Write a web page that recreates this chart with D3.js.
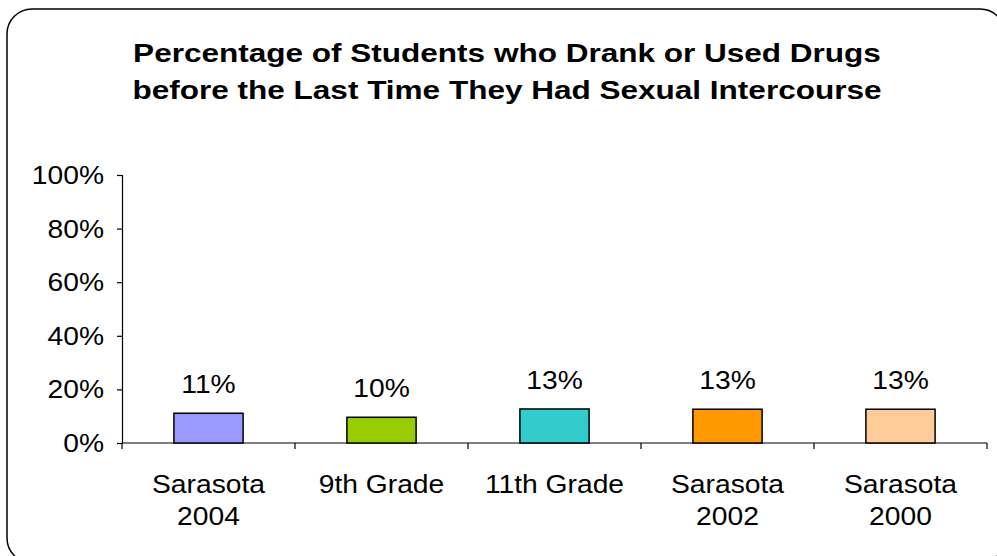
<!DOCTYPE html>
<html><head><meta charset="utf-8">
<script src="https://cdn.jsdelivr.net/npm/d3@7"></script>
<style>
html,body{margin:0;padding:0;background:#fff;}
svg{display:block;}
text{font-family:"Liberation Sans",Arial,sans-serif;fill:#000;}
</style></head>
<body>
<svg id="chart" width="997" height="556"></svg>
<script>
const titleLines = ["Percentage of Students who Drank or Used Drugs", "before the Last Time They Had Sexual Intercourse"];
const categories = [["Sarasota","2004"],["9th Grade"],["11th Grade"],["Sarasota","2002"],["Sarasota","2000"]];
const values = [11.1, 9.6, 12.7, 12.6, 12.6];
const colors = ["#9999FF","#99CC00","#33CCCC","#FF9900","#FFCC99"];
const yTicks = [0, 20, 40, 60, 80, 100];

const svg = d3.select("#chart");
const plot = {left:122, right:987, top:175, bottom:443};
const SX = 1.13;   // horizontal stretch of text in the original
const TSX = 1.19;

// border
svg.append("rect").attr("x",7).attr("y",9).attr("width",998).attr("height",554)
  .attr("rx",25).attr("ry",25).attr("fill","none").attr("stroke","#000").attr("stroke-width",1.5);

// title
titleLines.forEach((t,i)=>{
  svg.append("g").attr("transform",`translate(507,${62+i*37}) scale(${TSX},1)`)
    .append("text").attr("text-anchor","middle").attr("font-weight","bold").attr("font-size",26.5).text(t);
});

const keys = categories.map((c,i)=>i);
const x = d3.scaleBand().domain(keys).range([plot.left, plot.right]).paddingInner(0.6).paddingOuter(0.3);
const y = d3.scaleLinear().domain([0,100]).range([plot.bottom, plot.top]);

// y axis
const yAxis = d3.axisLeft(y).tickValues(yTicks).tickSize(5).tickFormat(d=>d+"%");
const yg = svg.append("g").attr("transform",`translate(${plot.left},0)`).call(yAxis);
yg.select(".domain").attr("stroke","#000").attr("stroke-width",1.2);
yg.selectAll(".tick line").attr("stroke","#000").attr("stroke-width",1.2);
yg.selectAll(".tick text").remove();
yTicks.forEach(v=>{
  svg.append("g").attr("transform",`translate(104,${y(v)+9}) scale(${SX},1)`)
    .append("text").attr("text-anchor","end").attr("font-size",25).text(v+"%");
});

// x axis line + ticks between categories
const step = x.step();
svg.append("line").attr("x1",plot.left).attr("x2",plot.right).attr("y1",plot.bottom).attr("y2",plot.bottom)
  .attr("stroke","#000").attr("stroke-width",1.2);
const boundaries = d3.range(categories.length+1).map(i=>plot.left + i*step);
svg.selectAll(".xt").data(boundaries).enter().append("line")
  .attr("x1",d=>d).attr("x2",d=>d).attr("y1",plot.bottom).attr("y2",plot.bottom+6)
  .attr("stroke","#000").attr("stroke-width",1.2);

// bars
svg.selectAll(".bar").data(values).enter().append("rect")
  .attr("x",(d,i)=>x(i)).attr("width",x.bandwidth())
  .attr("y",d=>y(d)).attr("height",d=>plot.bottom-y(d))
  .attr("fill",(d,i)=>colors[i]).attr("stroke","#000").attr("stroke-width",1.5);

// value labels
values.forEach((v,i)=>{
  svg.append("g").attr("transform",`translate(${x(i)+x.bandwidth()/2},${y(v)-20}) scale(${SX},1)`)
    .append("text").attr("text-anchor","middle").attr("font-size",25).text(Math.round(v)+"%");
});

// category labels
categories.forEach((lines,i)=>{
  lines.forEach((t,j)=>{
    svg.append("g").attr("transform",`translate(${x(i)+x.bandwidth()/2},${493+j*32}) scale(${SX},1)`)
      .append("text").attr("text-anchor","middle").attr("font-size",25).text(t);
  });
});
</script>
</body></html>
